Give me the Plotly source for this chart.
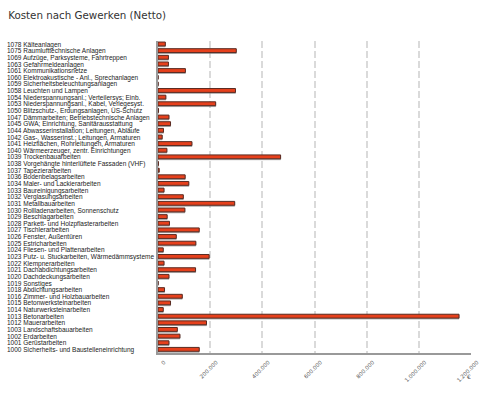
import plotly.graph_objects as go

labels = [
    "1078 Kälteanlagen",
    "1075 Raumlufttechnische Anlagen",
    "1069 Aufzüge, Parksysteme, Fahrtreppen",
    "1063 Gefahrmeldeanlagen",
    "1061 Kommunikationsnetze",
    "1060 Elektroakustische - Anl., Sprechanlagen",
    "1059 Sicherheitsbeleuchtungsanlagen",
    "1058 Leuchten und Lampen",
    "1054 Niederspannungsanl.; Verteilersys; Einb.",
    "1053 Niederspannungsanl., Kabel, Verlegesyst.",
    "1050 Blitzschutz-, Erdungsanlagen, ÜS-Schutz",
    "1047 Dämmarbeiten; Betriebstechnische Anlagen",
    "1045 GWA; Einrichtung, Sanitärausstattung",
    "1044 Abwasserinstallation; Leitungen, Abläufe",
    "1042 Gas-, Wasserinst.; Leitungen, Armaturen",
    "1041 Heizflächen, Rohrleitungen, Armaturen",
    "1040 Wärmeerzeuger, zentr. Einrichtungen",
    "1039 Trockenbauarbeiten",
    "1038 Vorgehängte hinterlüftete Fassaden (VHF)",
    "1037 Tapezierarbeiten",
    "1036 Bodenbelagsarbeiten",
    "1034 Maler- und Lackierarbeiten",
    "1033 Baureinigungsarbeiten",
    "1032 Verglasungsarbeiten",
    "1031 Metallbauarbeiten",
    "1030 Rollladenarbeiten, Sonnenschutz",
    "1029 Beschlagarbeiten",
    "1028 Parkett- und Holzpflasterarbeiten",
    "1027 Tischlerarbeiten",
    "1026 Fenster, Außentüren",
    "1025 Estricharbeiten",
    "1024 Fliesen- und Plattenarbeiten",
    "1023 Putz- u. Stuckarbeiten, Wärmedämmsysteme",
    "1022 Klempnerarbeiten",
    "1021 Dachabdichtungsarbeiten",
    "1020 Dachdeckungsarbeiten",
    "1019 Sonstiges",
    "1018 Abdichtungsarbeiten",
    "1016 Zimmer- und Holzbauarbeiten",
    "1015 Betonwerksteinarbeiten",
    "1014 Naturwerksteinarbeiten",
    "1013 Betonarbeiten",
    "1012 Mauerarbeiten",
    "1003 Landschaftsbauarbeiten",
    "1002 Erdarbeiten",
    "1001 Gerüstarbeiten",
    "1000 Sicherheits- und Baustelleneinrichtung",
]

costs = [
    28000, 300000, 40000, 40000, 105000, 0, 0, 297000, 30000, 221000,
    2000, 42000, 48000, 21000, 16000, 130000, 34000, 470000, 1500, 4500,
    104000, 118000, 23000, 97000, 294000, 103000, 35000, 44000, 158000, 70000,
    145000, 20000, 196000, 23000, 144000, 42000, 0, 25000, 93000, 48000,
    20000, 1154000, 186000, 74000, 84000, 42000, 158000,
]

tick_values = [0, 200000, 400000, 600000, 800000, 1000000, 1200000]
tick_text = ["0", "200.000", "400.000", "600.000", "800.000", "1.000.000", "1.200.000"]

n = len(labels)
fig = go.Figure()

# shadow
fig.add_trace(go.Bar(
    x=costs, y=labels, orientation="h", width=0.62, offset=-0.24,
    marker=dict(color="rgba(120,120,120,0.55)", line=dict(color="rgba(120,120,120,0.55)", width=1)),
    hoverinfo="skip", showlegend=False,
))
# bars
fig.add_trace(go.Bar(
    x=costs, y=labels, orientation="h", width=0.58, offset=-0.34,
    marker=dict(color="#e6401c", line=dict(color="#5b2b22", width=1)),
    showlegend=False,
))
# invisible trace for the left-aligned category labels
fig.add_trace(go.Scatter(
    x=[0] * n, y=labels, yaxis="y2", mode="markers",
    marker=dict(opacity=0), hoverinfo="skip", showlegend=False,
))

fig.update_layout(
    width=481, height=396,
    margin=dict(l=3, r=10, t=41, b=43, autoexpand=False),
    paper_bgcolor="white", plot_bgcolor="white",
    separators=",.",
    barmode="overlay",
    font=dict(family="DejaVu Sans", color="#333333"),
    title=dict(text="Kosten nach Gewerken (Netto)", x=0.017, xanchor="left",
               y=0.96, yanchor="middle", font=dict(size=10.3, color="#333333")),
    xaxis=dict(
        domain=[0.3312, 1.0], range=[0, 1200000], automargin=False,
        tickmode="array", tickvals=tick_values, ticktext=tick_text,
        tickangle=-45, tickfont=dict(size=5.5, color="#555555"),
        ticklabelshift=6, ticklabelstandoff=2, ticklabeloverflow="allow",
        showgrid=True, gridcolor="#dadada", gridwidth=2, griddash="7px,3px",
        showline=True, linecolor="#999999", linewidth=2,
        zeroline=False, ticks="",
    ),
    yaxis=dict(
        type="category", categoryorder="array", categoryarray=labels,
        range=[n - 0.5, -0.5], showticklabels=False, automargin=False,
        showline=True, linecolor="#999999", linewidth=2,
        showgrid=False, zeroline=False, ticks="",
    ),
    yaxis2=dict(
        type="category", categoryorder="array", categoryarray=labels,
        range=[n - 0.5, -0.5], overlaying="y", anchor="free", position=0,
        side="left", ticklabelposition="inside", automargin=False,
        tickmode="array", tickvals=labels, ticktext=labels,
        ticklabeloverflow="allow",
        tickfont=dict(family="Liberation Sans", size=6.5, color="#222222"),
        showline=False, showgrid=False, zeroline=False, ticks="",
    ),
    annotations=[dict(text="€", xref="paper", yref="paper", x=0.995, y=-0.075,
                      xanchor="center", yanchor="middle", showarrow=False,
                      font=dict(size=6, color="#555555"))],
)

fig.write_html("out.html", config={"displayModeBar": False},
               post_script="document.body.style.margin='0';document.body.style.padding='0';")
